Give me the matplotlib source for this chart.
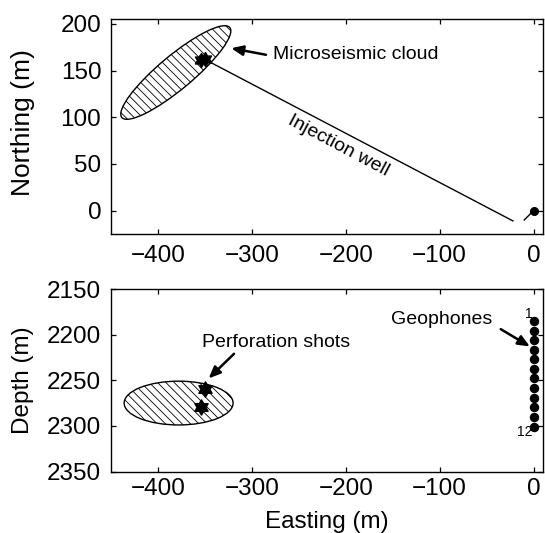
import matplotlib
matplotlib.use("Agg")
import matplotlib.pyplot as plt
from matplotlib.patches import Ellipse
from matplotlib.path import Path
import numpy as np

plt.rcParams['font.family'] = ['Liberation Sans', 'DejaVu Sans']
plt.rcParams['hatch.linewidth'] = 0.6
plt.rcParams['hatch.color'] = 'black'

# ---- data ----
x_ticks = [-400, -300, -200, -100, 0]
north_ticks = [0, 50, 100, 150, 200]
depth_ticks = [2150, 2200, 2250, 2300, 2350]

# injection well trajectory in map view
well_east = [-350, -22]
well_north = [162, -11]
# monitoring well at the origin
mon_east = [-10, 0]
mon_north = [-10, 0]
wellhead_east = [0]
wellhead_north = [0]

# perforation shots
shot_east = [-350, -354]
shot_north = [163, 161]
shot_depth = [2260, 2279]

# microseismic cloud outline (centre, full axes, tilt)
cloud_map_center = (-381, 148)
cloud_map_size = (150, 36)
cloud_map_angle = 40
cloud_depth_center = (-378, 2275)
cloud_depth_size = (116, 48)

# geophone array
geo_depth = [2185, 2196, 2206, 2217, 2227, 2238, 2248, 2258, 2269, 2279, 2290, 2301]
geo_east = [0] * len(geo_depth)

# ---- hexagram marker ----
ang = np.deg2rad(np.arange(12) * 30 + 90)
rad = np.where(np.arange(12) % 2 == 0, 1.0, 0.577)
verts = np.column_stack([rad * np.cos(ang), rad * np.sin(ang)])
verts = np.vstack([verts, verts[:1]])
hexagram = Path(verts, [Path.MOVETO] + [Path.LINETO] * 11 + [Path.CLOSEPOLY])

fig = plt.figure(figsize=(5.45, 5.33), dpi=100)
W, H = 545, 533
ax1 = fig.add_axes([111 / W, (H - 234) / H, 432 / W, 214.7 / H])
ax2 = fig.add_axes([111 / W, (H - 471.5) / H, 432 / W, 182.5 / H])

tick_fs = 17.5
ann_fs = 14
arrow_kw = dict(arrowstyle='-|>,head_length=0.7,head_width=0.3',
                color='black', lw=1.8, shrinkA=0, shrinkB=0)

for ax in (ax1, ax2):
    for s in ax.spines.values():
        s.set_linewidth(1.0)
    ax.tick_params(direction='in', top=True, right=True, length=3.5, width=0.9,
                   labelsize=tick_fs, pad=7)
    ax.set_xlim(-450, 10)
    ax.set_xticks(x_ticks)

# ---- map view ----
ax1.add_patch(Ellipse(cloud_map_center, *cloud_map_size, angle=cloud_map_angle,
                      facecolor='none', edgecolor='black', lw=1.0,
                      hatch='\\\\\\\\'))
ax1.plot(well_east, well_north, color='black', lw=1.0)
ax1.plot(mon_east, mon_north, color='black', lw=1.0)
ax1.plot(wellhead_east, wellhead_north, 'o', color='black', ms=5.5)
ax1.plot(shot_east, shot_north, linestyle='none', marker=hexagram, ms=10,
         color='black')
ax1.set_ylim(-25, 205)
ax1.set_yticks(north_ticks)
ax1.set_ylabel('Northing (m)', fontsize=19, va='center')
ax1.yaxis.set_label_coords(-0.204, 0.52)
ax1.tick_params(axis='x', pad=8)

ax1.text(-278, 167, 'Microseismic cloud', fontsize=ann_fs, va='center', ha='left')
ax1.annotate('', xy=(-322, 174), xytext=(-285, 167), arrowprops=arrow_kw)
ax1.text(-208, 69, 'Injection well', fontsize=ann_fs, rotation=-28,
         rotation_mode='anchor', ha='center', va='center')

# ---- depth section ----
ax2.add_patch(Ellipse(cloud_depth_center, *cloud_depth_size,
                      facecolor='none', edgecolor='black', lw=1.0,
                      hatch='\\\\\\\\'))
ax2.plot(shot_east, shot_depth, linestyle='none', marker=hexagram, ms=11,
         color='black')
ax2.plot(geo_east, geo_depth, 'o', color='black', ms=5.8)
ax2.set_ylim(2350, 2150)
ax2.set_yticks(depth_ticks)
ax2.set_ylabel('Depth (m)', fontsize=tick_fs, va='center')
ax2.yaxis.set_label_coords(-0.204, 0.5)
ax2.set_xlabel('Easting (m)', fontsize=tick_fs, va='center')
ax2.xaxis.set_label_coords(0.5, -0.276)
ax2.tick_params(axis='x', pad=5)

ax2.text(-274, 2209, 'Perforation shots', fontsize=ann_fs, va='center', ha='center')
ax2.annotate('', xy=(-346, 2248), xytext=(-319, 2221), arrowprops=arrow_kw)
ax2.text(-98, 2183, 'Geophones', fontsize=ann_fs, va='center', ha='center')
ax2.annotate('', xy=(-4, 2213), xytext=(-35, 2194), arrowprops=arrow_kw)
ax2.text(-5, 2177, '1', fontsize=10, ha='center', va='center')
ax2.text(-9, 2307, '12', fontsize=10, ha='center', va='center')

fig.savefig('out.png', dpi=100)
